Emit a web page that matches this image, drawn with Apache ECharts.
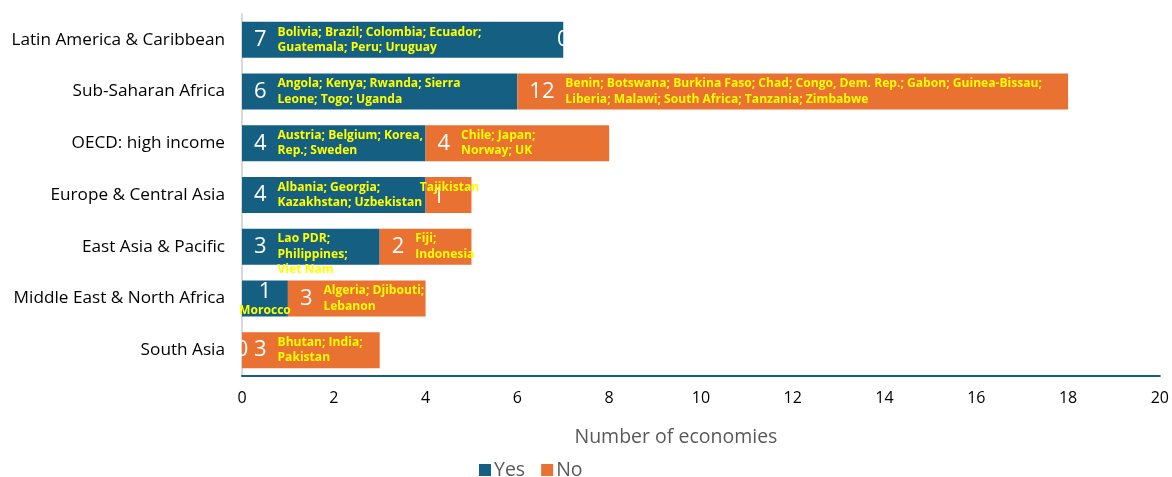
<!DOCTYPE html>
<html>
<head>
<meta charset="utf-8">
<script src="https://cdn.jsdelivr.net/npm/echarts@6/dist/echarts.min.js"></script>
<style>
  html, body { margin: 0; padding: 0; background: #fff; }
  #chart { width: 1172px; height: 477px; }
</style>
</head>
<body>
<div id="chart"></div>
<script>
var categories = ['Latin America & Caribbean', 'Sub-Saharan Africa', 'OECD: high income',
    'Europe & Central Asia', 'East Asia & Pacific', 'Middle East & North Africa', 'South Asia'];
var yesValues = [7, 6, 4, 4, 3, 1, 0];
var noValues = [0, 12, 4, 1, 2, 3, 3];
var yesNames = [
    'Bolivia; Brazil; Colombia; Ecuador;\nGuatemala; Peru; Uruguay',
    'Angola; Kenya; Rwanda; Sierra\nLeone; Togo; Uganda',
    'Austria; Belgium; Korea,\nRep.; Sweden',
    'Albania; Georgia;\nKazakhstan; Uzbekistan',
    'Lao PDR;\nPhilippines;\nViet Nam',
    'Morocco',
    ''
];
var noNames = [
    '',
    'Benin; Botswana; Burkina Faso; Chad; Congo, Dem. Rep.; Gabon; Guinea-Bissau;\nLiberia; Malawi; South Africa; Tanzania; Zimbabwe',
    'Chile; Japan;\nNorway; UK',
    'Tajikistan',
    'Fiji;\nIndonesia',
    'Algeria; Djibouti;\nLebanon',
    'Bhutan; India;\nPakistan'
];
var ticks = [0, 2, 4, 6, 8, 10, 12, 14, 16, 18, 20];

var FONT = 'Open Sans';

// label rows: [start, category index, value, names]
function labelRows(starts, vals, names) {
    return vals.map(function (v, i) { return [starts[i], i, v, names[i]]; });
}
var yesRows = labelRows(yesValues.map(function () { return 0; }), yesValues, yesNames);
var noRows = labelRows(yesValues, noValues, noNames);

function makeRender(isYes) {
    return function (params, api) {
        var start = api.value(0);
        var idx = api.value(1);
        var val = api.value(2);
        var names = isYes ? yesRows[idx][3] : noRows[idx][3];
        var p0 = api.coord([start, idx]);
        var p1 = api.coord([start + val, idx]);
        var cy = p0[1];
        var children = [];
        var numStyle = { text: String(val), fill: '#fff', fontSize: 22, fontFamily: FONT };
        if (val === 0) {
            children.push({ type: 'text', x: p0[0], y: cy, style: Object.assign(numStyle, { align: 'center', verticalAlign: 'middle' }) });
            return { type: 'group', children: children };
        }
        var nameStyle = { fill: '#ffff00', fontSize: 12.1, fontWeight: 'bold', fontFamily: FONT, lineHeight: 15.5 };
        if (val === 1) {
            // narrow segment: number and name stacked around the middle
            var cx = (p0[0] + p1[0]) / 2;
            if (isYes) {
                children.push({ type: 'text', x: cx, y: cy - 7, style: Object.assign(numStyle, { align: 'center', verticalAlign: 'middle' }) });
                children.push({ type: 'text', x: cx, y: cy + 12, style: Object.assign(nameStyle, { text: names, align: 'center', verticalAlign: 'middle' }) });
            } else {
                children.push({ type: 'text', x: cx - 10, y: cy + 2, style: Object.assign(numStyle, { align: 'center', verticalAlign: 'middle' }) });
                children.push({ type: 'text', x: cx + 1, y: cy - 7, style: Object.assign(nameStyle, { text: names, align: 'center', verticalAlign: 'middle' }) });
            }
            return { type: 'group', children: children };
        }
        var numX = p0[0] + 12;
        var digits = String(val).length;
        children.push({ type: 'text', x: numX, y: cy, style: Object.assign(numStyle, { align: 'left', verticalAlign: 'middle' }) });
        children.push({ type: 'text', x: numX + digits * 12.5 + 11, y: cy - 15.5, style: Object.assign(nameStyle, { text: names, align: 'left', verticalAlign: 'top' }) });
        return { type: 'group', children: children };
    };
}

var myChart = echarts.init(document.getElementById('chart'));

var option = {
    animation: false,
    grid: { left: 242, right: 12, top: 14, bottom: 101 },
    legend: {
        data: ['Yes', 'No'],
        left: 474, top: 455,
        icon: 'rect', itemWidth: 12, itemHeight: 12, itemGap: 16,
        textStyle: { fontSize: 19.5, color: '#595959', fontFamily: FONT, padding: [0, 0, 0, -2] }
    },
    xAxis: {
        type: 'value', min: 0, max: 20, interval: 2,
        name: 'Number of economies', nameLocation: 'middle', nameGap: 51,
        nameTextStyle: { fontSize: 19.5, color: '#595959', fontFamily: FONT, padding: [0, 50, 0, 0] },
        axisLine: { show: true, lineStyle: { color: '#156082', width: 2 } },
        axisTick: { show: false },
        splitLine: { show: false },
        axisLabel: {
            fontSize: 16, color: '#000', fontFamily: FONT, margin: 14,
            formatter: function (v) { return ticks.indexOf(v) >= 0 ? String(v) : ''; }
        }
    },
    yAxis: {
        type: 'category', data: categories, inverse: true,
        axisLine: { show: true, lineStyle: { color: '#d9d9d9', width: 2 } },
        axisTick: { show: false },
        axisLabel: { fontSize: 17.2, color: '#000', fontFamily: FONT, margin: 17 }
    },
    series: [
        {
            name: 'Yes', type: 'bar', stack: 'total', barWidth: 36,
            itemStyle: { color: '#156082' },
            data: yesValues
        },
        {
            name: 'No', type: 'bar', stack: 'total', barWidth: 36,
            itemStyle: { color: '#e97132' },
            data: noValues
        },
        {
            name: 'yesLabels', type: 'custom', z: 10, silent: true,
            renderItem: makeRender(true),
            encode: { x: 0, y: 1 },
            data: yesRows.map(function (r) { return [r[0], r[1], r[2]]; })
        },
        {
            name: 'noLabels', type: 'custom', z: 10, silent: true,
            renderItem: makeRender(false),
            encode: { x: 0, y: 1 },
            data: noRows.map(function (r) { return [r[0], r[1], r[2]]; })
        }
    ]
};

myChart.setOption(option);
</script>
</body>
</html>
